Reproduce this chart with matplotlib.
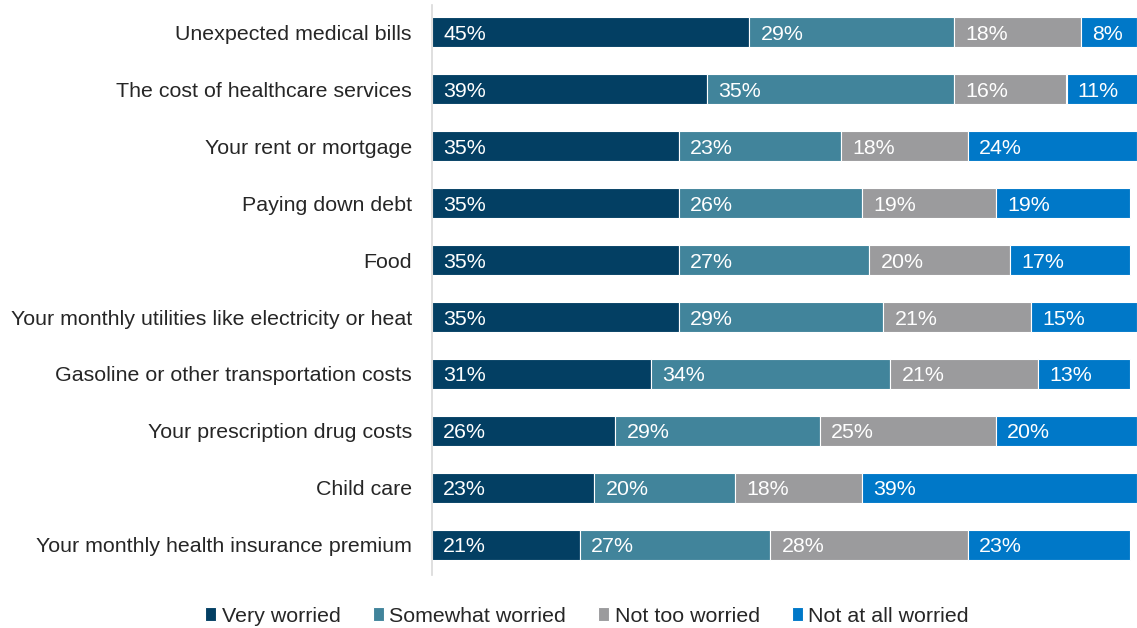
import matplotlib
matplotlib.use("Agg")
import matplotlib.pyplot as plt
import numpy as np

plt.rcParams['font.family'] = ['Liberation Sans', 'DejaVu Sans']

categories = [
    "Unexpected medical bills",
    "The cost of healthcare services",
    "Your rent or mortgage",
    "Paying down debt",
    "Food",
    "Your monthly utilities like electricity or heat",
    "Gasoline or other transportation costs",
    "Your prescription drug costs",
    "Child care",
    "Your monthly health insurance premium",
]
series_names = ["Very worried", "Somewhat worried", "Not too worried", "Not at all worried"]
very_worried = [45, 39, 35, 35, 35, 35, 31, 26, 23, 21]
somewhat_worried = [29, 35, 23, 26, 27, 29, 34, 29, 20, 27]
not_too_worried = [18, 16, 18, 19, 20, 21, 21, 25, 18, 28]
not_at_all_worried = [8, 11, 24, 19, 17, 15, 13, 20, 39, 23]

colors = ["#033F63", "#41849B", "#9B9B9D", "#0078C8"]
series = [very_worried, somewhat_worried, not_too_worried, not_at_all_worried]

FS = 15.4

fig = plt.figure(figsize=(11.37, 6.28), dpi=100)
ax = fig.add_axes([432 / 1137, 1 - 575 / 628, 1 - 432 / 1137, 570 / 628])

y = np.arange(len(categories))
left = np.zeros(len(categories))
for name, vals, col in zip(series_names, series, colors):
    vals = np.array(vals, dtype=float)
    ax.barh(y, vals, left=left, height=0.53, color=col, edgecolor="white",
            linewidth=0.8, label=name)
    for yi, l, v in zip(y, left, vals):
        ax.text(l + 1.6, yi, f"{int(v)}%", va="center_baseline", ha="left",
                color="white", fontsize=FS)
    left += vals

ax.set_xlim(0, 100)
ax.set_ylim(len(categories) - 0.47, -0.48)
ax.set_yticks(y)
ax.set_yticklabels(categories, fontsize=FS, color="#262626")
ax.tick_params(axis="y", length=0, pad=14.5)
ax.set_xticks([])
for s in ["top", "right", "bottom"]:
    ax.spines[s].set_visible(False)
ax.spines["left"].set_color("#D9D9D9")
ax.spines["left"].set_linewidth(1.2)

fig.legend(loc="center", bbox_to_anchor=(587 / 1137, 1 - 616 / 628), ncol=4,
           frameon=False, fontsize=FS, handlelength=0.52, handleheight=0.6,
           handletextpad=0.25, columnspacing=1.5, labelcolor="#262626")

fig.savefig("out.png", dpi=100)
